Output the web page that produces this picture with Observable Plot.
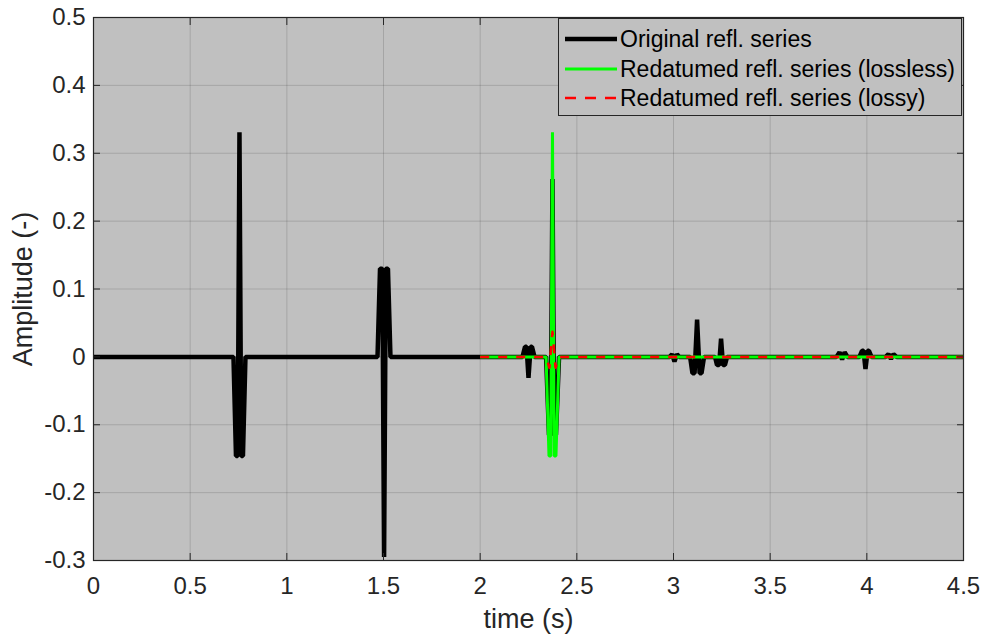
<!DOCTYPE html>
<html>
<head>
<meta charset="utf-8">
<script src="https://cdn.jsdelivr.net/npm/d3@7"></script>
<script src="https://cdn.jsdelivr.net/npm/@observablehq/plot@0.6"></script>
<style>
  html, body { margin: 0; padding: 0; background: #fff; }
  #wrap { position: relative; width: 981px; height: 637px; font-family: "Liberation Sans", Arial, sans-serif; }
  #legend { position: absolute; left: 558px; top: 18px; width: 404px; height: 98px; background: #c0c0c0; border: 1px solid #262626; box-sizing: border-box; }
  .sw { position: absolute; left: 6px; width: 52px; height: 0; }
  .lab { position: absolute; left: 61px; font-size: 23px; color: #000; white-space: nowrap; line-height: 30px; }
</style>
</head>
<body>
<div id="wrap"></div>
<script>
// ---- data ----
const xTicks = [0, 0.5, 1, 1.5, 2, 2.5, 3, 3.5, 4, 4.5];
const xTickLabels = ["0", "0.5", "1", "1.5", "2", "2.5", "3", "3.5", "4", "4.5"];
const yTicks = [-0.3, -0.2, -0.1, 0, 0.1, 0.2, 0.3, 0.4, 0.5];
const yTickLabels = ["-0.3", "-0.2", "-0.1", "0", "0.1", "0.2", "0.3", "0.4", "0.5"];

const seriesNames = ["Original refl. series", "Redatumed refl. series (lossless)", "Redatumed refl. series (lossy)"];
const seriesColors = ["#000000", "#00ff00", "#ff0000"];

// Original reflectivity series (time s, amplitude)
const origT = [0,
  0.724, 0.737, 0.746, 0.755, 0.764, 0.773, 0.786,
  1.469, 1.482, 1.494, 1.503, 1.512, 1.523, 1.536,
  2.219, 2.232, 2.240, 2.250, 2.261, 2.268, 2.281,
  2.341, 2.356, 2.365, 2.374, 2.383, 2.392, 2.408,
  2.980, 2.993, 3.005, 3.018, 3.030,
  3.086, 3.098, 3.109, 3.122, 3.135, 3.145, 3.158,
  3.215, 3.225, 3.236, 3.246, 3.256, 3.266, 3.277,
  3.843, 3.859, 3.872, 3.885, 3.900,
  3.962, 3.975, 3.983, 3.993, 4.004, 4.011, 4.024,
  4.097, 4.112, 4.125, 4.138, 4.154,
  4.5];
const origA = [0,
  0, -0.146, -0.146, 0.331, -0.146, -0.146, 0,
  0, 0.130, 0.130, -0.295, 0.130, 0.130, 0,
  0, 0.015, 0.015, -0.031, 0.015, 0.015, 0,
  0, -0.115, -0.115, 0.262, -0.115, -0.115, 0,
  0, 0.004, -0.007, 0.004, 0,
  0, -0.024, -0.024, 0.055, -0.024, -0.024, 0,
  0, -0.012, -0.012, 0.027, -0.012, -0.012, 0,
  0, 0.007, -0.004, 0.007, 0,
  0, 0.009, 0.009, -0.018, 0.009, 0.009, 0,
  0, 0.004, -0.003, 0.004, 0,
  0];

// Redatumed (lossless)
const losslessT = [2.0, 2.341, 2.356, 2.365, 2.374, 2.383, 2.392, 2.408, 4.5];
const losslessA = [0, 0, -0.146, -0.146, 0.331, -0.146, -0.146, 0, 0];

// Redatumed (lossy)
const lossyT = [2.0, 2.341, 2.358, 2.374, 2.390, 2.408, 4.5];
const lossyA = [0, 0, -0.016, 0.037, -0.016, 0, 0];

const xLabel = "time (s)";
const yLabel = "Amplitude (-)";

// ---- build tables ----
const orig = origT.map((t, i) => ({t, a: origA[i]}));
const lossless = losslessT.map((t, i) => ({t, a: losslessA[i]}));
const lossy = lossyT.map((t, i) => ({t, a: lossyA[i]}));

const font = "'Liberation Sans', Arial, sans-serif";
const ink = "#262626";

const chart = Plot.plot({
  width: 981,
  height: 637,
  marginLeft: 93,
  marginRight: 18,
  marginTop: 17,
  marginBottom: 77,
  style: {fontFamily: font, background: "#ffffff", color: ink},
  x: {domain: [0, 4.5]},
  y: {domain: [-0.3, 0.5]},
  marks: [
    Plot.frame({fill: "#c0c0c0"}),
    Plot.gridX(xTicks, {stroke: ink, strokeOpacity: 0.17, strokeWidth: 1}),
    Plot.gridY(yTicks, {stroke: ink, strokeOpacity: 0.17, strokeWidth: 1}),
    Plot.line(orig, {x: "t", y: "a", stroke: seriesColors[0], strokeWidth: 4.5, strokeLinejoin: "miter", strokeLinecap: "butt", clip: true}),
    Plot.line(lossless, {x: "t", y: "a", stroke: seriesColors[1], strokeWidth: 3, strokeLinejoin: "miter", strokeLinecap: "butt", clip: true}),
    Plot.line(lossy, {x: "t", y: "a", stroke: seriesColors[2], strokeWidth: 2.5, strokeDasharray: "9,9", strokeLinecap: "butt", clip: true}),
    Plot.frame({stroke: ink, strokeWidth: 1.2}),
    Plot.axisX({ticks: xTicks, anchor: "bottom", tickSize: -7, tickPadding: 23, fontSize: 24, stroke: ink, tickFormat: (d, i) => xTickLabels[i], label: null}),
    Plot.axisX({ticks: xTicks, anchor: "top", tickSize: -7, tickFormat: () => "", label: null, stroke: ink}),
    Plot.axisY({ticks: yTicks, anchor: "left", tickSize: -7, tickPadding: 15, fontSize: 24, stroke: ink, tickFormat: (d, i) => yTickLabels[i], label: null}),
    Plot.axisY({ticks: yTicks, anchor: "right", tickSize: -7, tickFormat: () => "", label: null, stroke: ink}),
    Plot.text([xLabel], {text: d => d, frameAnchor: "bottom", dy: 59, lineAnchor: "middle", textAnchor: "middle", fontSize: 27, fill: ink}),
    Plot.text([yLabel], {text: d => d, frameAnchor: "left", dx: -70, rotate: -90, lineAnchor: "middle", textAnchor: "middle", fontSize: 27, fill: ink})
  ]
});

const wrap = document.getElementById("wrap");
wrap.appendChild(chart);

// legend overlay inside the axes box
const legend = document.createElement("div");
legend.id = "legend";
const rowTops = [5, 35, 64];
const swatchWidths = [4.5, 3, 2.5];
const swatchDash = ["", "", "11,9"];
seriesNames.forEach((name, i) => {
  const sw = document.createElement("div");
  sw.className = "sw";
  sw.style.top = (rowTops[i] + 15) + "px";
  sw.innerHTML = '<svg width="52" height="8" style="position:absolute;top:-4px;left:0"><line x1="0" y1="4" x2="52" y2="4" stroke="' +
    seriesColors[i] + '" stroke-width="' + swatchWidths[i] + '"' + (swatchDash[i] ? ' stroke-dasharray="' + swatchDash[i] + '"' : '') + '/></svg>';
  legend.appendChild(sw);
  const lab = document.createElement("div");
  lab.className = "lab";
  lab.style.top = rowTops[i] + "px";
  lab.textContent = name;
  legend.appendChild(lab);
});
wrap.appendChild(legend);
</script>
</body>
</html>
